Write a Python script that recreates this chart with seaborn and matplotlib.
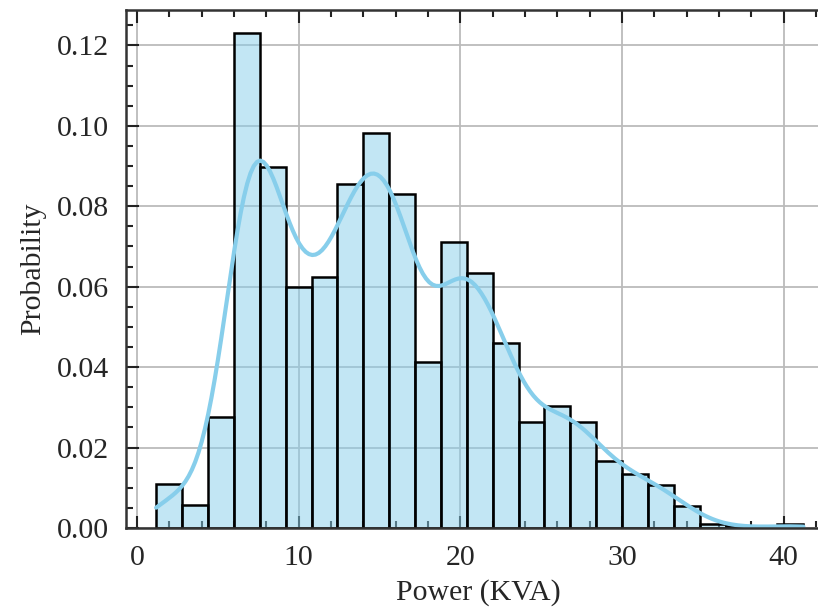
import numpy as np
import pandas as pd
import matplotlib
matplotlib.use("Agg")
import matplotlib.pyplot as plt
from matplotlib.ticker import MultipleLocator, FormatStrFormatter
import seaborn as sns

# histogram: 25 equal bins from 1.2 to 41.2 kVA
bin_start = 1.2
bin_stop = 41.2
n_bins = 25
probability = [0.0110, 0.0056, 0.0275, 0.1227, 0.0893, 0.0598, 0.0621, 0.0852,
               0.0977, 0.0827, 0.0412, 0.0708, 0.0632, 0.0459, 0.0263, 0.0303,
               0.0263, 0.0167, 0.0133, 0.0107, 0.0054, 0.0009, 0.0004, 0.0000,
               0.0009]

edges = np.linspace(bin_start, bin_stop, n_bins + 1)
df = pd.DataFrame({"power": (edges[:-1] + edges[1:]) / 2, "p": probability})

sns.set_style("ticks")
plt.rcParams['font.family'] = ['Liberation Serif', 'DejaVu Serif']
plt.rcParams['mathtext.fontset'] = 'stix'

fig = plt.figure(figsize=(8.18, 6.09), dpi=100)
# right spine falls just outside the picture, as in the cropped original
ax = fig.add_axes([126 / 818, 81 / 609, 704 / 818, 518 / 609])

sns.histplot(data=df, x="power", weights="p", bins=list(edges), stat="probability",
             kde=True, color="skyblue", edgecolor="black", linewidth=1.8,
             kde_kws=dict(bw_adjust=0.33, cut=0.4), line_kws=dict(linewidth=3),
             ax=ax)

ax.set_xlim(-0.68, 42.86)
ax.set_ylim(0, 0.1288)
ax.set_xlabel("Power (KVA)", fontsize=21.5, labelpad=6)
ax.set_ylabel("Probability", fontsize=21.5, labelpad=8)
ax.xaxis.set_major_locator(MultipleLocator(10))
ax.xaxis.set_minor_locator(MultipleLocator(2))
ax.yaxis.set_major_locator(MultipleLocator(0.02))
ax.yaxis.set_minor_locator(MultipleLocator(0.005))
ax.yaxis.set_major_formatter(FormatStrFormatter('%.2f'))
ax.tick_params(which="both", direction="in", top=True, right=True, width=1.5,
               labelsize=21.5, color="#222222")
ax.tick_params(which="major", length=9, pad=12)
ax.tick_params(which="minor", length=5)
ax.grid(True, color="#bbbbbb", linewidth=1.3)
ax.set_axisbelow(True)
for s in ax.spines.values():
    s.set_linewidth(1.8)
    s.set_color("#333333")

fig.savefig("out.png", dpi=100)
